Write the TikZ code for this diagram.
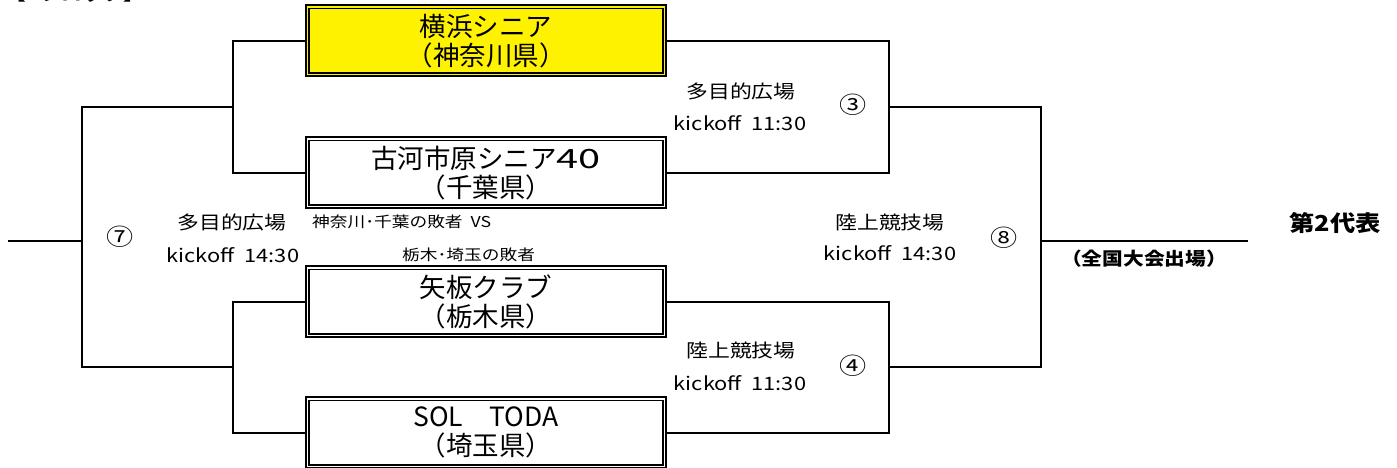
\documentclass[tikz,border=0pt]{standalone}
\usepackage{fontspec}
\setmainfont{Noto Sans CJK JP}
\newfontfamily\smfont{Noto Sans CJK JP}[FakeStretch=1.18]
\newfontfamily\bdfont{Noto Sans CJK JP}[FakeStretch=1.15]
\newfontfamily\widedigits{Noto Sans CJK JP}[FakeStretch=1.5]
\usetikzlibrary{backgrounds}
\begin{document}
\begin{tikzpicture}[x=1pt,y=-1pt,
  team/.style={draw, fill=white, line width=1.6pt, double=white, double distance=1.6pt,
    minimum width=357.2pt, minimum height=67.8pt, inner sep=0pt, align=center,
    font=\fontsize{26.5}{29}\selectfont},
  winner/.style={team, fill=yellow, double=yellow},
  wire/.style={line width=2pt},
  small/.style={font=\smfont\fontsize{18.5}{20}\selectfont, inner sep=0pt},
  num/.style={font=\smfont\fontsize{23}{25}\selectfont, inner sep=0pt},
  lose/.style={font=\smfont\fontsize{15}{17}\selectfont, inner sep=0pt, anchor=west},
  bold/.style={font=\bdfont\bfseries\fontsize{22}{24}\selectfont, inner sep=0pt},
  boldsm/.style={font=\bdfont\bfseries\fontsize{18}{20}\selectfont, inner sep=0pt}]
\useasboundingbox (0,0) rectangle (1397,468);

% header (cut off at the top edge, as in the reference)
\node[boldsm, anchor=base west] (hdr) at (5,1) {【Dブロック】};

% teams
\node[winner] (b1) at (486,40.7) {横浜シニア\\（神奈川県）};
\node[team] (b2) at (486,172.7) {古河市原シニア{\widedigits 40}\\（千葉県）};
\node[team] (b3) at (486,301.7) {矢板クラブ\\（栃木県）};
\node[team] (b4) at (486,432.7) {SOL　TODA\\（埼玉県）};

% junctions
\coordinate (j12) at (233,106.7);
\coordinate (j34) at (233,367);
\coordinate (j7) at (82,241);
\coordinate (s7) at (8,241);
\coordinate (k12) at (889,106.7);
\coordinate (k34) at (889,367);
\coordinate (j8) at (1041,241);
\coordinate (fin) at (1248,241);

\begin{scope}[on background layer]
\draw[wire] (b1.west) -| (j12) |- (b2.west);
\draw[wire] (b3.west) -| (j34) |- (b4.west);
\draw[wire] (j12) -| (j7) |- (j34);
\draw[wire] (s7) -- (j7);
\draw[wire] (b1.east) -| (k12) |- (b2.east);
\draw[wire] (b3.east) -| (k34) |- (b4.east);
\draw[wire] (k12) -| (j8) |- (k34);
\draw[wire] (j8) -- (fin);
\end{scope}

% match labels
\node[small] (v3) at (741,91) {多目的広場};
\node[small] (t3) at (740,123.5) {kickoff\ \ 11:30};
\node[num] (n3) at (853,105) {③};

\node[small] (v4) at (741,351) {陸上競技場};
\node[small] (t4) at (740,383) {kickoff\ \ 11:30};
\node[num] (n4) at (853,366) {④};

\node[small] (v8) at (890,222.5) {陸上競技場};
\node[small] (t8) at (890,253.5) {kickoff\ \ 14:30};
\node[num] (n8) at (1004,237.5) {⑧};

\node[small] (v7) at (232,222.5) {多目的広場};
\node[small] (t7) at (233,255.5) {kickoff\ \ 14:30};
\node[num] (n7) at (120,236.5) {⑦};

\node[lose] (l1) at (312,222) {神奈川･千葉の敗者\ \ VS};
\node[lose] (l2) at (402,255) {栃木･埼玉の敗者};

% result
\node[bold] (rep) at (1335,223) {第2代表};
\node[boldsm] (nat) at (1144,258.5) {（全国大会出場）};
\end{tikzpicture}
\end{document}
